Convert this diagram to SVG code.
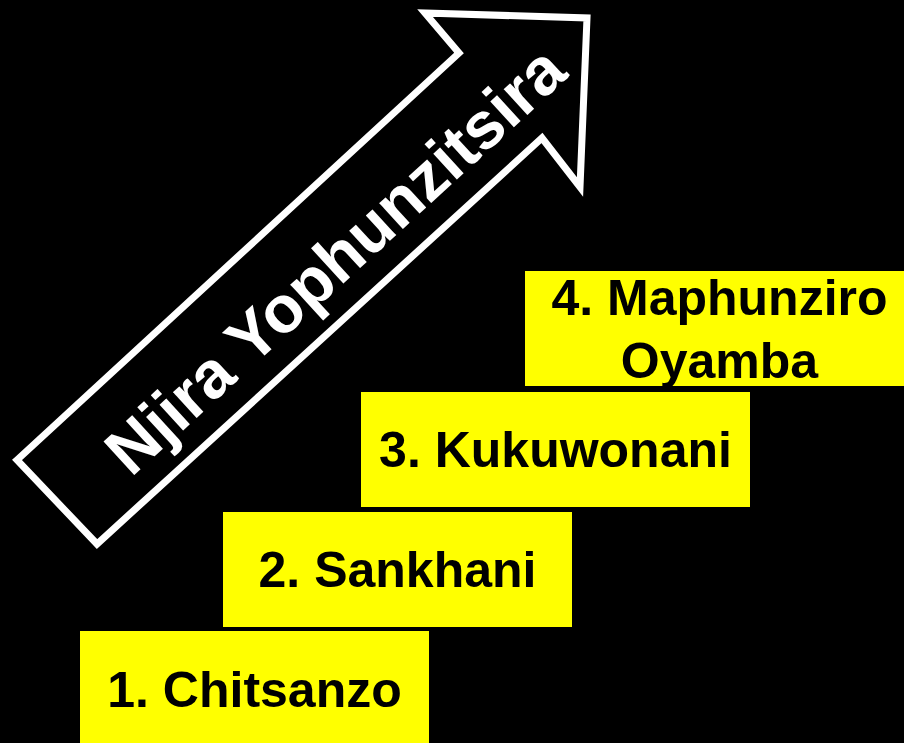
<svg xmlns="http://www.w3.org/2000/svg" width="904" height="743" viewBox="0 0 904 743">
<style>
.box{fill:#ffff00;}
.lbl{font-family:"Liberation Sans",Arial,sans-serif;font-weight:bold;font-size:50px;fill:#000;text-anchor:middle;}
.arr{fill:#000;stroke:#fff;stroke-width:7;stroke-linejoin:miter;}
.atxt{font-family:"Liberation Sans",Arial,sans-serif;font-weight:bold;font-size:66px;fill:#fff;}
</style>
<rect x="0" y="0" width="904" height="743" fill="#000"/>
<g id="arrow">
<polygon class="arr" points="17,460 459,53 425,13 587,18 580,187 542,138 97,544"/>
<text class="atxt" transform="translate(131,478) rotate(-42.5)">Njira Yophunzitsira</text>
</g>
<g id="step1">
<rect class="box" x="80" y="631" width="349" height="115"/>
<text class="lbl" x="254.5" y="707">1. Chitsanzo</text>
</g>
<g id="step2">
<rect class="box" x="223" y="512" width="349" height="115"/>
<text class="lbl" x="397.5" y="587">2. Sankhani</text>
</g>
<g id="step3">
<rect class="box" x="361" y="392" width="389" height="115"/>
<text class="lbl" x="555.5" y="467">3. Kukuwonani</text>
</g>
<g id="step4">
<rect class="box" x="525" y="271" width="389" height="115"/>
<text class="lbl" x="719.5" y="315">4. Maphunziro</text>
<text class="lbl" x="719.5" y="378">Oyamba</text>
</g>
<g id="connectors"></g>
</svg>
